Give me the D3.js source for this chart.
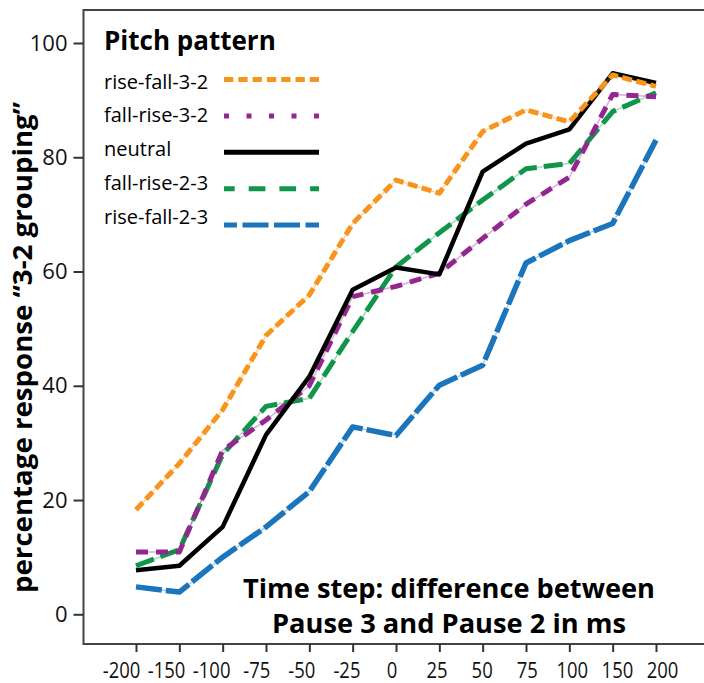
<!DOCTYPE html>
<html>
<head>
<meta charset="utf-8">
<script src="https://cdn.jsdelivr.net/npm/d3@7"></script>
<style>
  html, body { margin: 0; padding: 0; background: #fff; }
  svg { display: block; font-family: "Open Sans", sans-serif; }
</style>
</head>
<body>
<svg id="chart" width="704" height="683"></svg>
<script>
// Time steps (ms) on the horizontal axis
const timeSteps = ["-200", "-150", "-100", "-75", "-50", "-25", "0", "25", "50", "75", "100", "150", "200"];
const yTicks = [0, 20, 40, 60, 80, 100];

// Percentage of "3-2 grouping" responses per pitch pattern
const seriesNames = ["rise-fall-3-2", "fall-rise-3-2", "neutral", "fall-rise-2-3", "rise-fall-2-3"];
const riseFall32 = [18.3, 26.4, 35.8, 48.8, 55.9, 68.4, 76.0, 73.7, 84.5, 88.3, 86.2, 94.4, 92.4];
const fallRise32 = [10.9, 10.9, 28.7, 34.0, 40.0, 55.6, 57.4, 59.7, 65.8, 71.8, 76.5, 91.0, 90.6];
const neutral    = [7.7, 8.5, 15.3, 31.4, 41.6, 56.8, 60.7, 59.5, 77.5, 82.4, 84.9, 94.7, 93.0];
const fallRise23 = [8.5, 11.3, 28.0, 36.4, 37.8, 49.5, 60.8, 66.8, 72.5, 78.0, 78.9, 88.0, 91.3];
const riseFall23 = [4.8, 3.9, 10.0, 15.3, 21.5, 32.8, 31.3, 40.1, 43.6, 61.5, 65.4, 68.4, 83.0];

const seriesValues = {
  "rise-fall-3-2": riseFall32,
  "fall-rise-3-2": fallRise32,
  "neutral": neutral,
  "fall-rise-2-3": fallRise23,
  "rise-fall-2-3": riseFall23
};

// Line styles for each pitch pattern (plot and legend)
const styles = {
  "rise-fall-3-2": { color: "#F7941D", width: 5,   dash: "10,4.5", legendDash: "9.3,5",   legendOffset: 0 },
  "fall-rise-3-2": { color: "#92278F", width: 5,   dash: "12,8",   legendDash: "5,17.5",  legendOffset: 0 },
  "neutral":       { color: "#000000", width: 4.5, dash: null,     legendDash: null,      legendOffset: 0 },
  "fall-rise-2-3": { color: "#0F9648", width: 5,   dash: "19,7",   legendDash: "16.7,14", legendOffset: 6 },
  "rise-fall-2-3": { color: "#1B75BC", width: 5.5, dash: "26,4",   legendDash: "26,5.5",  legendOffset: 13 }
};
// Drawing order: the last one ends up on top
const drawOrder = ["rise-fall-2-3", "fall-rise-2-3", "fall-rise-3-2", "neutral", "rise-fall-3-2"];

const svg = d3.select("#chart");

const x = d3.scalePoint().domain(timeSteps).range([136, 656]);
const xLabel = d3.scalePoint().domain(timeSteps).range([121, 662]);
const y = d3.scaleLinear().domain([0, 100]).range([614.3, 43]);

// Plot frame
svg.append("rect")
  .attr("x", 83.5).attr("y", 10)
  .attr("width", 700).attr("height", 634)
  .attr("fill", "#fff")
  .attr("stroke", "#444").attr("stroke-width", 2);

// Y axis
const yAxis = svg.append("g")
  .attr("transform", "translate(83.5,0)")
  .call(d3.axisLeft(y).tickValues(yTicks).tickSize(10).tickPadding(6).tickFormat(d3.format("d")));
yAxis.attr("font-family", "'Open Sans', sans-serif").attr("font-size", 22);
yAxis.select(".domain").remove();
yAxis.selectAll(".tick line").attr("stroke", "#333").attr("stroke-width", 2);
yAxis.selectAll(".tick text").attr("fill", "#111");

// X axis: tick marks
const xTicks = svg.append("g")
  .attr("transform", "translate(0,644)")
  .call(d3.axisBottom(x).tickSize(8).tickFormat(""));
xTicks.select(".domain").remove();
xTicks.selectAll(".tick line").attr("stroke", "#333").attr("stroke-width", 2);

// X axis: tick labels
const xLabels = svg.append("g")
  .attr("transform", "translate(0,644)")
  .call(d3.axisBottom(xLabel).tickSize(0).tickPadding(18));
xLabels.attr("font-family", "'Open Sans', sans-serif").attr("font-size", 22);
xLabels.select(".domain").remove();
xLabels.selectAll(".tick text").attr("fill", "#111").attr("transform", "scale(0.84,1)");

// Series lines
const line = d3.line()
  .x((d, i) => x(timeSteps[i]))
  .y(d => y(d));

const linesG = svg.append("g");
drawOrder.forEach(name => {
  const st = styles[name];
  const vals = seriesValues[name];
  if (st.dash) {
    // faint connecting stroke visible in the dash gaps
    linesG.append("path")
      .datum(vals)
      .attr("d", line)
      .attr("fill", "none")
      .attr("stroke", st.color)
      .attr("stroke-opacity", 0.35)
      .attr("stroke-width", 1.6);
  }
  linesG.append("path")
    .datum(vals)
    .attr("d", line)
    .attr("fill", "none")
    .attr("stroke", st.color)
    .attr("stroke-width", st.width)
    .attr("stroke-dasharray", st.dash)
    .attr("stroke-linejoin", "round");
});

// Legend
const legend = svg.append("g");
legend.append("text")
  .attr("x", 104).attr("y", 50)
  .attr("font-size", 26).attr("font-weight", 700)
  .attr("fill", "#000")
  .text("Pitch pattern");

const legendTextY = d3.scalePoint().domain(seriesNames).range([88.5, 223.5]);
const legendLineY = d3.scalePoint().domain(seriesNames).range([79.5, 225]);

seriesNames.forEach(name => {
  const st = styles[name];
  legend.append("text")
    .attr("x", 104).attr("y", legendTextY(name))
    .attr("font-size", 20)
    .attr("fill", "#000")
    .text(name);
  legend.append("line")
    .attr("x1", 224).attr("x2", 319)
    .attr("y1", legendLineY(name)).attr("y2", legendLineY(name))
    .attr("stroke", st.color)
    .attr("stroke-width", 5)
    .attr("stroke-dasharray", st.legendDash)
    .attr("stroke-dashoffset", st.legendOffset);
});

// Y axis title
svg.append("text")
  .attr("transform", "translate(32,347.5) rotate(-90)")
  .attr("text-anchor", "middle")
  .attr("font-size", 27.5).attr("font-weight", 700)
  .attr("fill", "#000")
  .attr("textLength", 491).attr("lengthAdjust", "spacingAndGlyphs")
  .text("percentage response \u201C3-2 grouping\u201D");

// X axis caption inside the plot
const caption = svg.append("g").attr("font-weight", 700).attr("fill", "#000").attr("font-size", 27);
caption.append("text")
  .attr("x", 449).attr("y", 598)
  .attr("text-anchor", "middle")
  .attr("textLength", 412).attr("lengthAdjust", "spacingAndGlyphs")
  .text("Time step: difference between");
caption.append("text")
  .attr("x", 449).attr("y", 633)
  .attr("text-anchor", "middle")
  .attr("textLength", 354).attr("lengthAdjust", "spacingAndGlyphs")
  .text("Pause 3 and Pause 2 in ms");
</script>
</body>
</html>
